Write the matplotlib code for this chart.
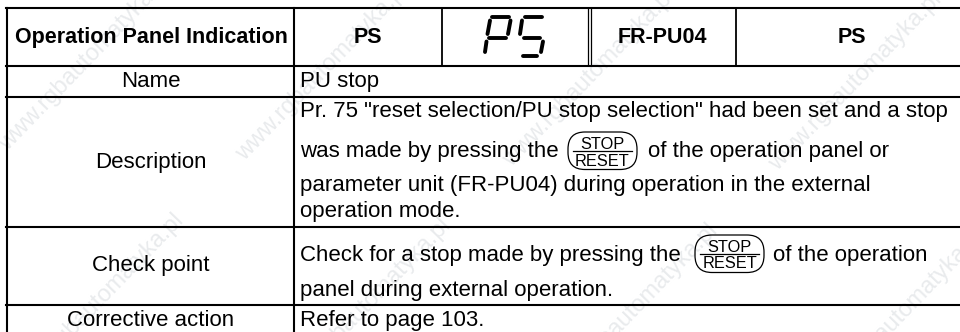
import matplotlib
matplotlib.use("Agg")
import matplotlib.pyplot as plt
from matplotlib.patches import FancyBboxPatch

plt.rcParams["font.family"] = ["Liberation Sans"]

W = 960
H = 332

# table text
header_labels = ["Operation Panel Indication", "PS", "FR-PU04", "PS"]
row_names = ["Name", "Description", "Check point", "Corrective action"]
body_text = [
    "PU stop",
    'Pr. 75 "reset selection/PU stop selection" had been set and a stop',
    "was made by pressing the",
    "parameter unit (FR-PU04) during operation in the external",
    "operation mode.",
    "Check for a stop made by pressing the",
    "panel during external operation.",
    "Refer to page 103.",
]
after_button_text = ["of the operation panel or", "of the operation"]
wm_text = "www.rgbautomatyka.pl"

# pixel layout
row_lines = [8, 65.5, 97, 227, 304.5]
header_x = [151, 368, 662, 852]
row_name_y = [87, 168, 271.5, 325.5]
body_y = [86.5, 116.5, 156.5, 191.5, 217, 260.5, 296, 326]
after_button_pos = [(648, 156.5), (773, 260.5)]
button_pos = [(568, 132), (695, 235)]  # left, top
wm_starts = [(3, 147), (240, 157), (507, 163), (773, 167)]
wm_ends = [(180, 217), (447, 222), (714, 227), (981, 232)]

fig = plt.figure(figsize=(9.6, 3.32), dpi=100)
ax = fig.add_axes([0, 0, 1, 1])
ax.set_xlim(0, W)
ax.set_ylim(H, 0)
ax.axis("off")

# watermark goes underneath everything
for x, y in wm_starts:
    ax.text(x, y, wm_text, rotation=46, rotation_mode="anchor", color="#e9ebed",
            fontsize=17, ha="left", va="center", zorder=1)
for x, y in wm_ends:
    ax.text(x, y, wm_text, rotation=46, rotation_mode="anchor", color="#e9ebed",
            fontsize=17, ha="right", va="center", zorder=1)

# grid lines
for y in row_lines:
    ax.plot([6, W], [y, y], color="k", lw=1.5, zorder=3)
ax.plot([7, 7], [7.5, H], color="k", lw=1.5, zorder=3)
ax.plot([294, 294], [8, H], color="k", lw=1.5, zorder=3)
ax.plot([441.5, 441.5], [8, 65], color="k", lw=1.3, zorder=3)
ax.plot([587.7, 587.7], [8, 65], color="k", lw=0.9, zorder=3)
ax.plot([591.3, 591.3], [8, 65], color="k", lw=0.9, zorder=3)
ax.plot([736, 736], [8, 65], color="k", lw=1.3, zorder=3)

# text
for x, s in zip(header_x, header_labels):
    ax.text(x, 42.7, s, fontsize=15.5, fontweight="bold", ha="center", va="baseline", zorder=4)
for y, s in zip(row_name_y, row_names):
    ax.text(151, y, s, fontsize=16, ha="center", va="baseline", zorder=4)
for y, s in zip(body_y, body_text):
    ax.text(300, y, s, fontsize=16, va="baseline", zorder=4)
for (x, y), s in zip(after_button_pos, after_button_text):
    ax.text(x, y, s, fontsize=16, va="baseline", zorder=4)

# STOP/RESET buttons
for x, y in button_pos:
    ax.add_patch(FancyBboxPatch((x, y), 69, 37.5, boxstyle="round,pad=0,rounding_size=17",
                                fill=False, ec="k", lw=0.9, zorder=4))
    ax.plot([x + 5, x + 64], [y + 18.5, y + 18.5], color="k", lw=0.9, zorder=4)
    ax.text(x + 34.5, y + 17, "STOP", fontsize=11.8, ha="center", va="baseline", zorder=4)
    ax.text(x + 34.5, y + 33.5, "RESET", fontsize=11.8, ha="center", va="baseline", zorder=4)

# seven segment P and S
segments = [
    [(492, 17), (509, 17)], [(490, 20.5), (487.5, 34)], [(489, 38), (506, 38)],
    [(510.5, 20.5), (508, 34)], [(486.5, 41.5), (485, 52)],
    [(524.5, 17), (541.5, 17)], [(522, 20.5), (520, 34)], [(523.5, 38), (540, 38)],
    [(543, 41.5), (541, 52)], [(523, 56), (537, 56)],
]
for s in segments:
    ax.plot([s[0][0], s[1][0]], [s[0][1], s[1][1]], color="k", lw=2.8,
            solid_capstyle="round", zorder=4)

fig.savefig("out.png", dpi=100)
